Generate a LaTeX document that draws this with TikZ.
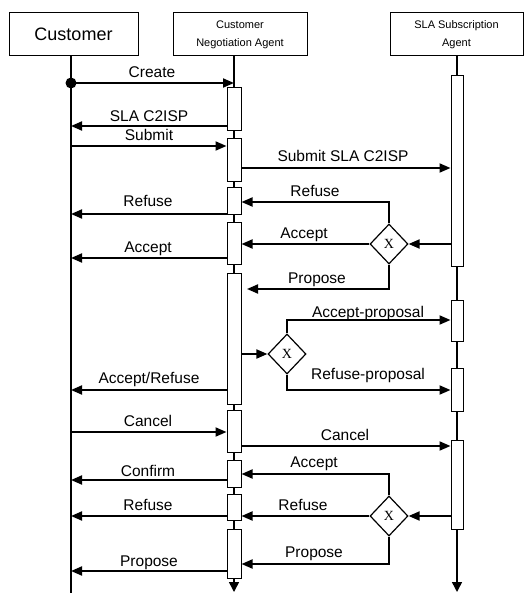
\documentclass[tikz,border=0pt]{standalone}
\usepackage{fontspec}
\setmainfont{Liberation Sans}
\newfontfamily\xserif{Liberation Serif}
\usetikzlibrary{shapes.geometric,arrows.meta}
\begin{document}
\begin{tikzpicture}[x=1pt,y=-1pt,
  msg/.style={line width=1.9pt,-{Triangle[length=11pt,width=9pt]}},
  life/.style={line width=1.5pt},
  act/.style={draw,fill=white,line width=1pt,minimum width=14pt,inner sep=0pt},
  sact/.style={draw,fill=white,line width=1pt,minimum width=12pt,inner sep=0pt},
  dec/.style={diamond,draw,fill=white,line width=1.2pt,minimum width=38pt,minimum height=40pt,inner sep=0pt,font=\xserif\fontsize{14}{14}\selectfont},
  lbl/.style={anchor=base,inner sep=0pt,font=\fontsize{15.5}{17}\selectfont},
  head/.style={draw,line width=1pt,minimum height=43pt,align=center,inner sep=0pt}]
\useasboundingbox (0,0) rectangle (525,593);
% headers
\node[head,minimum width=129pt,font=\fontsize{18}{21}\selectfont] (cust) at (73.5,34.5) {Customer};
\node[head,minimum width=134pt,font=\fontsize{11}{18}\selectfont] (cna) at (240,34.5) {Customer\\Negotiation Agent};
\node[head,minimum width=133pt,font=\fontsize{11}{18}\selectfont] (sla) at (456.5,34.5) {SLA Subscription\\Agent};
\coordinate (cL) at (71,0);
\coordinate (nL) at (234,0);
\coordinate (sL) at (457,0);
% lifelines
\draw[line width=1.1pt] (cL |- cust.south) -- (cL |- 0,593);
\draw[life,-{Triangle[length=10pt,width=10pt]}] (nL |- cna.south) -- (nL |- 0,592);
\draw[life,-{Triangle[length=10pt,width=10pt]}] (sL |- sla.south) -- (sL |- 0,592);
% activation boxes (CNA)
\node[act,minimum height=43pt] (a1) at (234,109.5) {};
\node[act,minimum height=43pt] (a2) at (234,160.5) {};
\node[act,minimum height=27pt] (a3) at (234,201.5) {};
\node[act,minimum height=41pt] (a4) at (234,243.5) {};
\node[act,minimum height=131pt] (a5) at (234,338.5) {};
\node[act,minimum height=42pt] (a6) at (234,431) {};
\node[act,minimum height=27pt] (a7) at (234,473.5) {};
\node[act,minimum height=26pt] (a8) at (234,507) {};
\node[act,minimum height=49pt] (a9) at (234,553.5) {};
% activation boxes (SLA)
\node[sact,minimum height=190pt] (s1) at (457,171) {};
\node[sact,minimum height=41pt] (s2) at (457,320.5) {};
\node[sact,minimum height=43pt] (s3) at (457,389.5) {};
\node[sact,minimum height=89pt] (s4) at (457,484.5) {};
% decisions
\node[dec] (d1) at (389,244) {X};
\node[dec] (d2) at (287,354) {X};
\node[dec] (d3) at (389,516) {X};
% messages
\node[circle,fill,minimum size=11pt,inner sep=0pt] (start) at (71,83) {};
\draw[msg] (start.center) -- (nL |- start.center);
\node[lbl] at (152,78) {Create};
\draw[msg] (a1.west |- 0,126) -- (cL |- 0,126);
\node[lbl] at (149,122) {SLA C2ISP};
\draw[msg] (cL |- 0,146) -- (a2.west |- 0,146);
\node[lbl] at (149,141) {Submit};
\draw[msg] (a2.east |- 0,168) -- (s1.west |- 0,168);
\node[lbl] at (343,162) {Submit SLA C2ISP};
\draw[msg] (d1.north) |- (a3.east |- 0,202);
\node[lbl] at (315,197) {Refuse};
\draw[msg] (a3.west |- 0,214) -- (cL |- 0,214);
\node[lbl] at (148,207) {Refuse};
\draw[msg] (s1.west |- d1.east) -- (d1.east);
\draw[msg] (d1.west) -- (a4.east |- d1.west);
\node[lbl] at (304,239) {Accept};
\draw[msg] (a4.west |- 0,258) -- (cL |- 0,258);
\node[lbl] at (148,252) {Accept};
\coordinate (p1) at (247,289);
\draw[msg] (d1.south) |- (p1);
\node[lbl] at (317,283) {Propose};
\draw[msg] (a5.east |- d2.west) -- (d2.west);
\draw[msg] (d2.north) |- (s2.west |- 0,320);
\node[lbl] at (368,317) {Accept-proposal};
\draw[msg] (d2.south) |- (s3.west |- 0,390);
\node[lbl] at (368,379) {Refuse-proposal};
\draw[msg] (a5.west |- 0,390) -- (cL |- 0,390);
\node[lbl] at (149,383) {Accept/Refuse};
\draw[msg] (cL |- 0,432) -- (a6.west |- 0,432);
\node[lbl] at (148,426) {Cancel};
\draw[msg] (a6.east |- 0,446) -- (s4.west |- 0,446);
\node[lbl] at (345,440) {Cancel};
\draw[msg] (d3.north) |- (a7.east |- 0,474);
\node[lbl] at (314,467) {Accept};
\draw[msg] (a7.west |- 0,480) -- (cL |- 0,480);
\node[lbl] at (148,476) {Confirm};
\draw[msg] (s4.west |- d3.east) -- (d3.east);
\draw[msg] (d3.west) -- (a8.east |- d3.west);
\node[lbl] at (303,510) {Refuse};
\draw[msg] (a8.west |- 0,516) -- (cL |- 0,516);
\node[lbl] at (148,510) {Refuse};
\draw[msg] (d3.south) |- (a9.east |- 0,564);
\node[lbl] at (314,557) {Propose};
\draw[msg] (a9.west |- 0,571) -- (cL |- 0,571);
\node[lbl] at (149,566) {Propose};
\end{tikzpicture}
\end{document}
